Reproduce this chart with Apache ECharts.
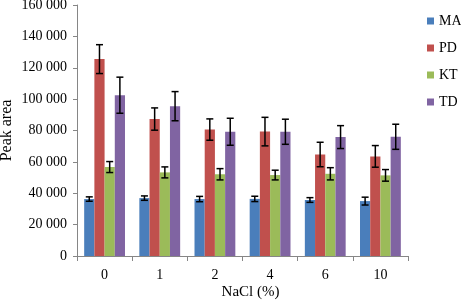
<!DOCTYPE html>
<html>
<head>
<meta charset="utf-8">
<script src="https://cdn.jsdelivr.net/npm/echarts@6/dist/echarts.min.js"></script>
<style>
  html, body { margin: 0; padding: 0; background: #fff; }
  #main { width: 461px; height: 300px; }
</style>
</head>
<body>
<div id="main"></div>
<script>
const categories = ['0', '1', '2', '4', '6', '10'];
const seriesNames = ['MA', 'PD', 'KT', 'TD'];
const maValues = [36300, 36900, 36300, 36400, 35700, 35000];
const pdValues = [125500, 87300, 80600, 79300, 64700, 63500];
const ktValues = [56700, 53300, 52100, 51600, 52400, 51400];
const tdValues = [102500, 95500, 79200, 79200, 75800, 76000];
const maErrors = [1400, 1400, 1700, 1700, 1500, 2500];
const pdErrors = [9200, 7100, 6800, 9100, 7800, 6900];
const ktErrors = [3500, 3500, 3600, 3100, 3900, 3700];
const tdErrors = [11500, 9300, 8600, 8000, 7300, 8000];
const colors = ['#4A7EBB', '#C0504D', '#9BBB59', '#8064A2'];

const values = [maValues, pdValues, ktValues, tdValues];
const errors = [maErrors, pdErrors, ktErrors, tdErrors];
const categoryGap = 0.26;

const chart = echarts.init(document.getElementById('main'));

const fmt = v => {
  const s = String(v);
  return s.length > 3 ? s.slice(0, -3) + ' ' + s.slice(-3) : s;
};

const barSeries = seriesNames.map((name, i) => ({
  name: name,
  type: 'bar',
  data: values[i],
  barGap: '0%',
  barCategoryGap: (categoryGap * 100) + '%',
  itemStyle: { color: colors[i] },
  z: 2
}));

const errorSeries = seriesNames.map((name, i) => ({
  type: 'custom',
  name: name + ' err',
  data: values[i].map((v, j) => [j, v - errors[i][j], v + errors[i][j]]),
  z: 5,
  silent: true,
  renderItem: (params, api) => {
    const band = api.size([1, 0])[0];
    const bw = band * (1 - categoryGap) / 4;
    const lo = api.coord([api.value(0), api.value(1)]);
    const hi = api.coord([api.value(0), api.value(2)]);
    const x = lo[0] + (i - 1.5) * bw;
    const cap = 3.5;
    const style = { stroke: '#000', lineWidth: 1.5 };
    return {
      type: 'group',
      children: [
        { type: 'line', shape: { x1: x, y1: lo[1], x2: x, y2: hi[1] }, style },
        { type: 'line', shape: { x1: x - cap, y1: lo[1], x2: x + cap, y2: lo[1] }, style },
        { type: 'line', shape: { x1: x - cap, y1: hi[1], x2: x + cap, y2: hi[1] }, style }
      ]
    };
  }
}));

const option = {
  animation: false,
  textStyle: { fontFamily: 'Liberation Serif' },
  grid: { left: 77, right: 53, top: 5, bottom: 44, outerBoundsMode: 'none', containLabel: false },
  legend: {
    data: seriesNames,
    orient: 'vertical',
    left: 422,
    top: 9,
    itemWidth: 7,
    itemHeight: 7,
    itemGap: 13,
    icon: 'rect',
    textStyle: { fontFamily: 'Liberation Serif', fontSize: 14, color: '#000' }
  },
  xAxis: {
    type: 'category',
    data: categories,
    name: 'NaCl (%)',
    nameLocation: 'middle',
    nameGap: 29,
    nameMoveOverlap: false,
    nameTextStyle: { fontFamily: 'Liberation Serif', fontSize: 15, color: '#000', padding: [0, 0, 0, 16] },
    axisLine: { lineStyle: { color: '#868686' } },
    axisTick: { show: true, length: 5, lineStyle: { color: '#868686' } },
    axisLabel: { fontFamily: 'Liberation Serif', fontSize: 14, color: '#000', margin: 12 }
  },
  yAxis: {
    type: 'value',
    min: 0,
    max: 160000,
    interval: 20000,
    name: 'Peak area',
    nameLocation: 'middle',
    nameGap: 62,
    nameMoveOverlap: false,
    nameTextStyle: { fontFamily: 'Liberation Serif', fontSize: 16, color: '#000' },
    axisLine: { show: true, lineStyle: { color: '#868686' } },
    axisTick: { show: true, length: 4, lineStyle: { color: '#868686' } },
    splitLine: { show: false },
    axisLabel: { fontFamily: 'Liberation Serif', fontSize: 14, color: '#000', margin: 10, formatter: fmt }
  },
  series: barSeries.concat(errorSeries)
};

chart.setOption(option);
</script>
</body>
</html>
